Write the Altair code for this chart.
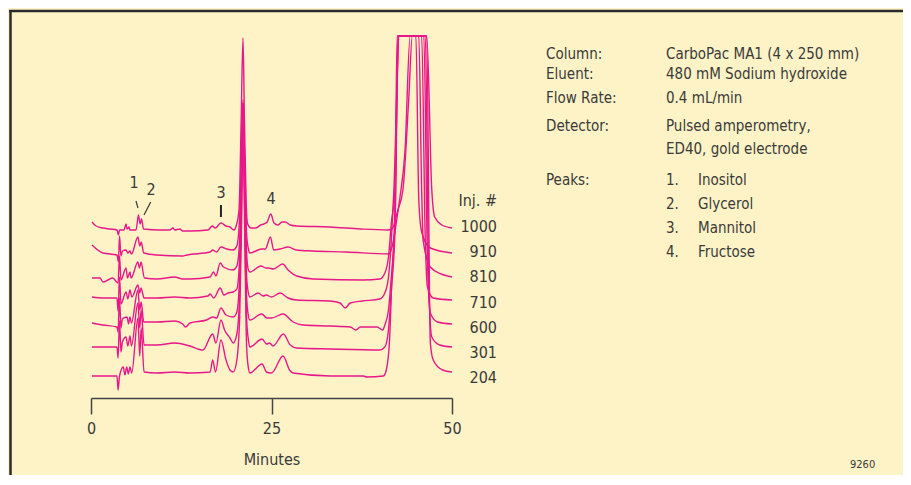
import altair as alt
import pandas as pd

# ---------------- data ----------------
INJECTIONS = ["1000", "910", "810", "710", "600", "301", "204"]
OFFSETS = [168, 144, 120, 97, 74, 50, 22]      # vertical stacking offset of each trace
FULL_SCALE = 362                                # detector full scale (off-scale peaks flatten here)

# (minutes, response above own baseline); None = off scale
TRACE_1000 = [(0.14, 8), (0.7, 4), (1.66, 2), (2.63, 1), (3.6, 0), (3.8, -5), (3.95, 0), (4.57, 0), (4.85, 6),
              (4.99, 1), (5.26, 3), (5.4, 0), (6.23, 0), (6.58, 15), (6.79, 6), (7.0, 11), (7.27, 1), (9.56, 0),
              (10.9, 0), (11.36, 2), (11.6, 0), (12.3, 1), (12.7, -1), (13.7, -1), (16.2, 0), (16.8, 4), (17.2, 2),
              (18.0, 7), (18.7, 4), (19.25, 3), (19.8, 0), (20.1, 4), (20.5, 20), (20.8, 110), (21.05, 192),
              (21.25, 110), (21.5, 25), (21.7, 6), (22.15, 2), (22.85, 2), (23.5, 5), (23.95, 6), (24.4, 8),
              (24.9, 16), (25.35, 7), (25.9, 5), (26.45, 8), (26.9, 8), (27.6, 5), (28.5, 4), (33.1, 3), (37.3, 1),
              (41.1, 0), (41.7, 1), (42.5, 20), (43.2, 40), (44.0, 130), (44.5, None), (46.5, None), (47.2, 40),
              (47.6, 13), (48.6, 5), (50.0, 2)]
TRACE_910 = [(0.14, 9), (1.66, 1), (3.6, -1), (3.8, -8), (3.95, 18), (4.15, -2), (4.35, 3), (4.85, 4), (5.1, 1),
             (5.4, 3), (5.6, 0), (6.5, 17), (6.75, 8), (6.95, 12), (7.3, 1), (9.14, -1), (12.7, -2), (13.3, -1),
             (16.5, 2), (16.85, 4), (17.4, 2), (18.0, 7), (18.8, 5), (19.7, 4), (20.2, 8), (20.6, 40), (20.85, 100),
             (21.05, 154), (21.3, 90), (21.55, 20), (21.8, 5), (22.0, 1), (23.65, 5), (24.15, 5), (24.85, 17),
             (25.3, 4), (26.2, 5), (27.3, 7), (28.45, 4), (30.7, 3), (35.3, 2), (41.3, 0), (41.9, 14), (42.4, 37),
             (42.8, 57), (43.5, 104), (44.2, None), (45.0, None), (45.4, 54), (45.8, 22), (47.0, 6), (50.0, 1)]
TRACE_810 = [(0.14, 0), (1.25, 0), (1.66, -4), (2.35, -2), (3.0, 0), (3.75, -5), (3.95, 22), (4.15, -2), (4.85, 10),
             (5.05, 0), (5.4, 6), (5.55, 0), (6.5, 16), (6.7, 10), (6.93, 16), (7.4, 0), (9.14, -1), (11.6, 1),
             (12.7, -1), (13.7, -1), (16.5, 1), (16.95, 6), (17.3, 2), (17.9, 15), (18.35, 11), (19.7, 8), (20.2, 12),
             (20.6, 40), (20.85, 110), (21.05, 172), (21.3, 100), (21.55, 25), (21.8, 8), (22.0, 6), (23.55, 12),
             (24.2, 10), (24.6, 10), (25.25, 9), (26.55, 14), (27.3, 8), (28.5, 2), (30.8, -1), (37.7, -2), (40.0, -1),
             (40.7, 5), (41.2, 21), (41.6, 55), (42.1, 88), (42.6, None), (45.4, None), (45.8, 88), (46.0, 38),
             (47.0, 11), (48.5, 4), (50.0, 1)]
TRACE_710 = [(0.14, 4), (1.66, 3), (3.6, 3), (3.75, -10), (3.95, 24), (4.15, -3), (4.85, 9), (5.1, 2), (5.4, 11),
             (5.65, 4), (6.5, 16), (6.75, 8), (6.93, 13), (7.35, 3), (9.14, 3), (11.6, 4), (13.7, 3), (16.2, 5),
             (16.5, 7), (17.0, 3), (17.9, 13), (18.4, 6), (19.0, 8), (19.7, 9), (20.2, 12), (20.6, 45), (20.85, 120),
             (21.05, 198), (21.3, 110), (21.55, 25), (21.8, 8), (22.0, 4), (23.15, 8), (23.85, 5), (24.3, 6),
             (25.0, 4), (26.2, 8), (27.3, 3), (28.5, 1), (33.1, 0), (34.5, -2), (35.2, -7), (35.9, -2), (37.6, 0),
             (40.0, 2), (40.7, 8), (41.2, 24), (41.6, 61), (41.95, 111), (42.7, None), (45.8, None), (46.3, 61),
             (46.6, 14), (47.4, 3), (50.0, 1)]
TRACE_600 = [(0.14, 1), (1.66, -1), (3.6, -3), (3.75, -8), (3.95, 26), (4.15, -4), (4.35, 5), (4.99, 7), (5.2, 0),
             (5.4, 7), (5.6, 1), (6.5, 34), (6.75, 14), (6.95, 22), (7.3, 2), (9.14, 2), (11.6, 3), (12.7, 0),
             (13.1, -3), (13.7, 1), (16.0, 4), (16.85, 7), (17.4, 6), (18.0, 16), (18.7, 9), (19.7, 7), (20.2, 12),
             (20.6, 50), (20.85, 130), (21.05, 220), (21.3, 120), (21.55, 28), (21.8, 8), (22.0, 4), (23.65, 10),
             (24.35, 6), (25.0, 6), (26.6, 10), (28.0, 2), (29.4, -1), (33.1, -2), (35.9, -3), (36.7, -6), (37.3, -3),
             (39.6, -3), (40.4, -6), (40.7, -1), (41.2, 14), (41.6, 47), (42.1, 101), (42.6, None), (46.1, None),
             (46.6, 64), (47.0, 11), (48.0, 2), (50.0, 0)]
TRACE_301 = [(0.14, 1), (1.66, 1), (3.6, 1), (3.75, -10), (3.95, 27), (4.15, -4), (4.35, 6), (4.85, 11), (5.1, 2),
             (5.4, 12), (5.6, 2), (6.5, 45), (6.75, 20), (6.95, 38), (7.35, 3), (9.14, 3), (11.6, 5), (13.7, 2),
             (15.5, -2), (16.85, 14), (17.3, 5), (18.0, 28), (18.5, 18), (19.25, 10), (19.7, 5), (20.2, 14),
             (20.6, 55), (20.85, 140), (21.05, 245), (21.3, 130), (21.55, 30), (21.8, 8), (22.0, 1), (23.7, 9),
             (24.3, 4), (24.75, 5), (25.2, 2), (26.65, 14), (27.6, 3), (28.5, 0), (33.1, -1), (40.0, -2), (40.7, 1),
             (41.2, 18), (41.6, 58), (42.1, 118), (42.5, None), (46.3, None), (46.8, 58), (47.2, 11), (48.3, 3),
             (50.0, 1)]
TRACE_204 = [(0.14, 0), (1.66, 0), (3.6, 0), (3.75, -14), (3.95, 0), (4.47, 9), (4.7, 1), (4.94, 9), (5.17, 2),
             (5.4, 9), (5.64, 3), (6.5, 58), (6.75, 20), (6.95, 48), (7.35, 4), (9.14, 3), (11.6, 4), (13.7, 3),
             (16.5, 4), (16.85, 16), (17.25, 4), (18.0, 36), (18.7, 16), (19.25, 6), (19.7, 4), (20.2, 16),
             (20.6, 60), (20.85, 150), (21.05, 265), (21.3, 140), (21.55, 30), (21.8, 8), (22.0, 3), (23.7, 12),
             (24.3, 4), (25.0, 3), (26.6, 20), (27.5, 6), (28.0, 3), (33.1, 0), (37.7, 0), (38.2, -1), (40.5, 0),
             (40.9, 6), (41.35, 36), (41.7, 103), (42.1, 169), (42.4, None), (46.5, None), (47.0, 33), (47.4, 16),
             (48.7, 6), (50.0, 4)]
TRACES = [TRACE_1000, TRACE_910, TRACE_810, TRACE_710, TRACE_600, TRACE_301, TRACE_204]

# peak labels (minutes, response) and their marker strokes
PEAK_NUMBERS = ["1", "2", "3", "4"]
PEAK_LABEL_T = [5.96, 8.31, 18.0, 24.93]
PEAK_LABEL_V = [215, 208, 205, 199]
MARKER_T = [6.23, 8.27]
MARKER_T2 = [6.51, 7.34]
MARKER_V = [197, 196]
MARKER_V2 = [190, 183]
BAR_T = [18.0]
BAR_V = [193]
BAR_V2 = [181]

X_TICKS = [0, 25, 50]

INFO_KEYS = ["Column:", "Eluent:", "Flow Rate:", "Detector:", "Peaks:"]
INFO_VALUES = ["CarboPac  MA1 (4 x 250 mm)", "480 mM Sodium hydroxide", "0.4 mL/min",
               "Pulsed amperometry,", "ED40, gold electrode"]
PEAK_NAMES = ["Inositol", "Glycerol", "Mannitol", "Fructose"]

# ---------------- layout ----------------
FONT = "Liberation Sans Narrow, DejaVu Sans Condensed, Liberation Sans, sans-serif"
TXT = "#3a3a3a"
PINK = "#E8178A"
BG = "#FDF3C6"
PLOT_W, PLOT_H = 361, 362
PAD_L, PAD_T = 83, 28
SVG_W, SVG_H = 895, 467
OX, OY = PAD_L + 8, PAD_T + 8          # page position of the plot origin

rows = []
for inj, off, tr in zip(INJECTIONS, OFFSETS, TRACES):
    for t, h in tr:
        v = FULL_SCALE if h is None else min(off + h, FULL_SCALE)
        rows.append({"inj": inj, "t": t, "v": v})
df = pd.DataFrame(rows)

xs = alt.Scale(domain=[0, 50], nice=False, zero=False)
ys = alt.Scale(domain=[0, FULL_SCALE], nice=False, zero=False)
XN = dict(scale=xs, axis=None)
YN = dict(scale=ys, axis=None)

lines = alt.Chart(df).mark_line(color=PINK, strokeWidth=1.4, interpolate="monotone").encode(
    x=alt.X("t:Q", scale=xs, axis=alt.Axis(values=X_TICKS, title="Minutes", grid=False, tickSize=16,
                                            labelFlush=False, domainColor="#444", tickColor="#444",
                                            domainWidth=1.5, tickWidth=1.5,
                                            labelFont=FONT, labelFontSize=16, labelColor=TXT, labelPadding=6,
                                            titleFont=FONT, titleFontSize=16, titleFontWeight="normal",
                                            titleColor=TXT, titlePadding=15)),
    y=alt.Y("v:Q", **YN),
    detail="inj:N",
)

peak_df = pd.DataFrame({"label": PEAK_NUMBERS, "t": PEAK_LABEL_T, "v": PEAK_LABEL_V})
peak_text = alt.Chart(peak_df).mark_text(font=FONT, fontSize=16, color=TXT, baseline="middle").encode(
    x=alt.X("t:Q", **XN), y=alt.Y("v:Q", **YN), text="label:N")

mk_df = pd.DataFrame({"t": MARKER_T, "t2": MARKER_T2, "v": MARKER_V, "v2": MARKER_V2})
markers = alt.Chart(mk_df).mark_rule(color=TXT, strokeWidth=1.2).encode(
    x=alt.X("t:Q", **XN), x2="t2:Q", y=alt.Y("v:Q", **YN), y2="v2:Q")
bar_df = pd.DataFrame({"t": BAR_T, "v": BAR_V, "v2": BAR_V2})
bar = alt.Chart(bar_df).mark_rule(color="#222", strokeWidth=2).encode(
    x=alt.X("t:Q", **XN), y=alt.Y("v:Q", **YN), y2="v2:Q")

# injection labels: an evenly spaced column at the right of the traces
inj_df = pd.DataFrame({"label": INJECTIONS, "row": list(range(len(INJECTIONS)))})
inj_text = alt.Chart(inj_df).mark_text(font=FONT, fontSize=16, color=TXT, align="right", baseline="middle").encode(
    x=alt.value(497 - OX),
    y=alt.Y("row:Q", scale=alt.Scale(domain=[0, 6], range=[227 - OY, 378 - OY]), axis=None),
    text="label:N")
inj_head = alt.Chart(pd.DataFrame({"label": ["Inj. #"]})).mark_text(
    font=FONT, fontSize=16, color=TXT, align="right", baseline="middle").encode(
    x=alt.value(497 - OX), y=alt.value(201 - OY), text="label:N")

# information panel
info_rows = []
KEY_Y = [54, 74, 98, 126, 180]
VAL_Y = [54, 74, 98, 126, 149]
NAME_Y = [180, 204, 228, 252]
for k, y in zip(INFO_KEYS, KEY_Y):
    info_rows.append({"px": 546 - OX, "py": y - OY, "text": k})
for v, y in zip(INFO_VALUES, VAL_Y):
    info_rows.append({"px": 666 - OX, "py": y - OY, "text": v})
for i, (n, y) in enumerate(zip(PEAK_NAMES, NAME_Y)):
    info_rows.append({"px": 666 - OX, "py": y - OY, "text": f"{i + 1}."})
    info_rows.append({"px": 698 - OX, "py": y - OY, "text": n})
info_df = pd.DataFrame(info_rows)
info = alt.Chart(info_df).mark_text(font=FONT, fontSize=15, color=TXT, align="left", baseline="middle").encode(
    x=alt.X("px:Q", scale=None, axis=None),
    y=alt.Y("py:Q", scale=None, axis=None),
    text="text:N",
)
code = alt.Chart(pd.DataFrame({"label": ["9260"]})).mark_text(
    font=FONT, fontSize=11, color=TXT, align="left", baseline="middle").encode(
    x=alt.value(850 - OX), y=alt.value(465 - OY), text="label:N")

one = pd.DataFrame({"a": [0]})
frame_top = alt.Chart(one).mark_rule(color="#2a2a2a", strokeWidth=2.5).encode(
    x=alt.value(9 - OX), x2=alt.value(SVG_W + 8 - OX), y=alt.value(11 - OY))
frame_left = alt.Chart(one).mark_rule(color="#2a2a2a", strokeWidth=2.5).encode(
    x=alt.value(10.5 - OX), y=alt.value(10 - OY), y2=alt.value(SVG_H + 8 - OY))

chart = alt.layer(lines, peak_text, markers, bar, inj_text, inj_head, info, code, frame_top, frame_left).resolve_scale(
    x="independent", y="independent"
).properties(
    width=PLOT_W, height=PLOT_H,
    autosize=alt.AutoSizeParams(type="none"),
    padding={"left": PAD_L, "top": PAD_T, "right": SVG_W - PAD_L - PLOT_W, "bottom": SVG_H - PAD_T - PLOT_H},
    background=BG,
).configure_view(stroke=None)

chart.save("out.html", embed_options={"renderer": "svg", "actions": False})
